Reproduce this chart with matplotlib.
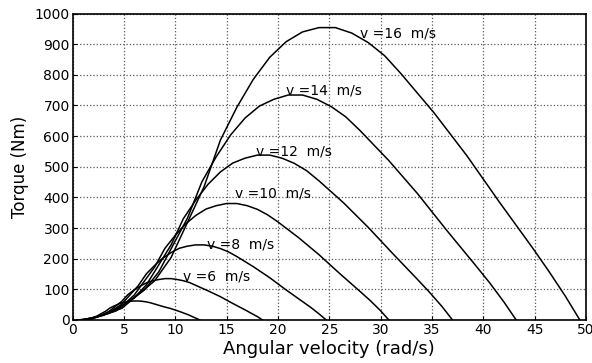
import matplotlib
matplotlib.use("Agg")
import matplotlib.pyplot as plt

# angular velocity (rad/s) and torque (Nm), one pair per wind speed
w_v4 = [0.4, 1.2, 2.0, 2.4, 2.8, 3.2, 3.6, 4.0, 4.4, 4.8, 5.2, 5.6, 6.0, 6.4, 6.8, 7.2, 7.6, 8.0, 8.8, 9.6, 10.4, 11.2, 11.6, 12.0, 12.4]
t_v4 = [0, 2, 8, 13, 21, 28, 38, 45, 51, 56, 59, 61, 62, 62, 61, 59, 56, 52, 44, 37, 28, 18, 12, 6, 0]

w_v6 = [0.6, 1.8, 3.0, 3.6, 4.2, 4.8, 5.4, 6.0, 6.6, 7.2, 7.8, 8.4, 9.0, 9.6, 10.2, 10.8, 11.4, 12.0, 13.2, 14.4, 15.6, 16.8, 17.4, 18.0, 18.5]
t_v6 = [0, 5, 18, 29, 45, 61, 83, 98, 111, 121, 128, 132, 135, 135, 132, 128, 122, 113, 95, 76, 54, 33, 22, 11, 0]

w_v8 = [0.8, 2.4, 4.0, 4.8, 5.6, 6.4, 7.2, 8.0, 8.8, 9.6, 10.4, 11.2, 12.0, 12.8, 13.6, 14.4, 15.2, 16.0, 17.6, 19.2, 20.8, 22.4, 23.2, 24.0, 24.7]
t_v8 = [0, 10, 33, 52, 82, 112, 151, 178, 202, 220, 234, 241, 245, 245, 241, 233, 222, 207, 174, 138, 98, 60, 41, 20, 0]

w_v10 = [1, 3, 5, 6, 7, 8, 9, 10, 11, 12, 13, 14, 15, 16, 17, 18, 19, 20, 22, 24, 26, 28, 29, 30, 30.8]
t_v10 = [0, 15, 51, 81, 127, 173, 234, 276, 313, 341, 362, 373, 380, 380, 373, 361, 343, 320, 269, 213, 152, 93, 63, 30, 0]

w_v12 = [1.2, 3.6, 6.0, 7.2, 8.4, 9.6, 10.8, 12.0, 13.2, 14.4, 15.6, 16.8, 18.0, 19.2, 20.4, 21.6, 22.8, 24.0, 26.4, 28.8, 31.2, 33.6, 34.8, 36.0, 37.0]
t_v12 = [0, 22, 72, 115, 180, 245, 331, 391, 443, 483, 512, 528, 538, 538, 528, 511, 487, 454, 382, 302, 216, 132, 89, 43, 0]

w_v14 = [1.4, 4.2, 7.0, 8.4, 9.8, 11.2, 12.6, 14.0, 15.4, 16.8, 18.2, 19.6, 21.0, 22.4, 23.8, 25.2, 26.6, 28.0, 30.8, 33.6, 36.4, 39.2, 40.6, 42.0, 43.2]
t_v14 = [0, 29, 98, 157, 245, 333, 451, 533, 604, 659, 698, 720, 734, 734, 720, 696, 663, 618, 520, 412, 294, 180, 122, 59, 0]

w_v16 = [1.6, 4.8, 8.0, 9.6, 11.2, 12.8, 14.4, 16.0, 17.6, 19.2, 20.8, 22.4, 24.0, 25.6, 27.2, 28.8, 30.4, 32.0, 35.2, 38.4, 41.6, 44.8, 46.4, 48.0, 49.4]
t_v16 = [0, 38, 128, 204, 319, 434, 587, 694, 785, 857, 908, 940, 954, 954, 936, 905, 862, 803, 676, 536, 383, 235, 158, 77, 0]

labels = ["v =6  m/s", "v =8  m/s", "v =10  m/s", "v =12  m/s", "v =14  m/s", "v =16  m/s"]
label_x = [10.8, 13.1, 15.8, 17.9, 20.8, 28.0]
label_y = [141, 245, 413, 549, 748, 936]

x_ticks = [0, 5, 10, 15, 20, 25, 30, 35, 40, 45, 50]
y_ticks = [0, 100, 200, 300, 400, 500, 600, 700, 800, 900, 1000]

fig = plt.figure(figsize=(5.92, 3.63), dpi=100)
ax = fig.add_axes([0.1225, 0.1185, 0.8674, 0.8443])

curves = [(w_v4, t_v4), (w_v6, t_v6), (w_v8, t_v8), (w_v10, t_v10),
          (w_v12, t_v12), (w_v14, t_v14), (w_v16, t_v16)]
for w, t in curves:
    ax.plot(w, t, color='black', linewidth=1.1)

for txt, lx, ly in zip(labels, label_x, label_y):
    ax.text(lx, ly, txt, fontsize=10, ha='left', va='center', color='black')

ax.set_xlim(0, 50)
ax.set_ylim(0, 1000)
ax.set_xticks(x_ticks)
ax.set_yticks(y_ticks)
ax.grid(True, linestyle=':', color='0.35', linewidth=0.9)
ax.tick_params(direction='in', length=3, labelsize=10, pad=2)
for s in ax.spines.values():
    s.set_linewidth(1.2)

ax.set_xlabel("Angular velocity (rad/s)", fontsize=13, labelpad=2)
ax.set_ylabel("Torque (Nm)", fontsize=12, labelpad=4)

fig.savefig("out.png", dpi=100)
